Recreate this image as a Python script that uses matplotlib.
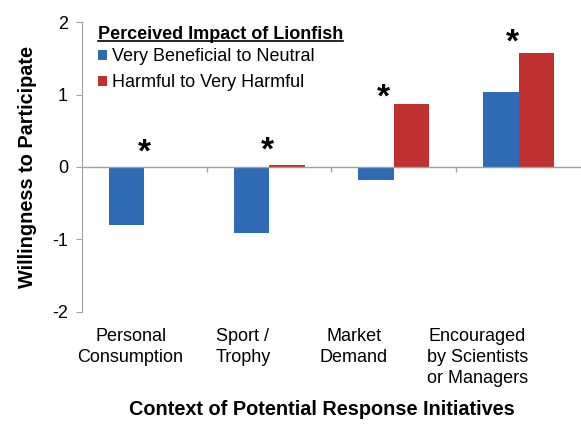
#Lionfish willingness to participate bar chart
import numpy as np
import matplotlib.pyplot as plt
from matplotlib.lines import Line2D

plt.rcParams['font.family'] = ['Liberation Sans', 'DejaVu Sans']
plt.rcParams['axes.unicode_minus'] = False

Contexts = ['Personal\nConsumption', 'Sport /\nTrophy', 'Market\nDemand', 'Encouraged\nby Scientists\nor Managers']
Beneficial = [-0.80, -0.91, -0.18, 1.03]
Harmful = [0.0, 0.03, 0.865, 1.58]
StarHeights = [0.19, 0.22, 0.95, 1.71]

BlueColor = '#2F6BB5'
RedColor = '#C0302E'
AxisGray = '#A0A0A0'

x = np.arange(len(Contexts))
w = 0.285

fig = plt.figure(figsize=(5.81, 4.26), dpi=100)
ax = fig.add_axes([0.141, 0.268, 0.859, 0.68])

ax.bar(x - w/2, Beneficial, w, color=BlueColor, label='Very Beneficial to Neutral')
ax.bar(x + w/2, Harmful, w, color=RedColor, label='Harmful to Very Harmful')

#significance asterisks, slightly left of category centre like the original
StarShift = [0.0, -0.01, -0.08, -0.05]
for i in range(len(Contexts)):
    ax.text(x[i] + StarShift[i], StarHeights[i], '*', ha='center', va='center',
            fontsize=24, fontweight='bold')

ax.set_xlim(-0.5, len(Contexts) - 0.5)
ax.set_ylim(-2, 2)
ax.set_yticks([-2, -1, 0, 1, 2])
ax.tick_params(axis='y', direction='out', length=4, color=AxisGray, labelsize=13, pad=6)

for s in ['top', 'right', 'bottom']:
    ax.spines[s].set_visible(False)
ax.spines['left'].set_color(AxisGray)

#category labels sit below the plot (a bit left of the categories as in the picture)
LabelShift = [-0.11, -0.21, -0.32, -0.33]
ax.set_xticks(x + np.array(LabelShift))
ax.set_xticklabels(Contexts, fontsize=13, linespacing=1.3, multialignment='center')
ax.tick_params(axis='x', length=0, pad=12)

#zero line with small ticks below it at the category boundaries
ax.axhline(0, color=AxisGray, linewidth=1)
ax.vlines(np.arange(0.5, len(Contexts) - 1, 1.0), -0.07, 0, color=AxisGray, linewidth=1)

ax.set_ylabel('Willingness to Participate', fontsize=14.3, fontweight='bold', labelpad=11)
ax.set_xlabel('Context of Potential Response Initiatives', fontsize=14.3, fontweight='bold')
ax.xaxis.set_label_coords(0.48, -0.305)

leg = ax.legend(loc='upper left', bbox_to_anchor=(0.01, 1.025), frameon=False, fontsize=13,
                title='Perceived Impact of Lionfish', handlelength=0.5, handleheight=0.5,
                handletextpad=0.3, labelspacing=0.5, borderaxespad=0.2)
leg.get_title().set_fontweight('bold')
leg.get_title().set_fontsize(13)
leg._legend_box.align = 'left'
leg._legend_box.sep = 4

#underline the legend title
fig.canvas.draw()
bb = leg.get_title().get_window_extent().transformed(fig.transFigure.inverted())
fig.add_artist(Line2D([bb.x0, bb.x1], [bb.y0 + 0.004, bb.y0 + 0.004], color='black',
                      linewidth=1.2, transform=fig.transFigure))

plt.savefig('out.png', dpi=100)
plt.close()
